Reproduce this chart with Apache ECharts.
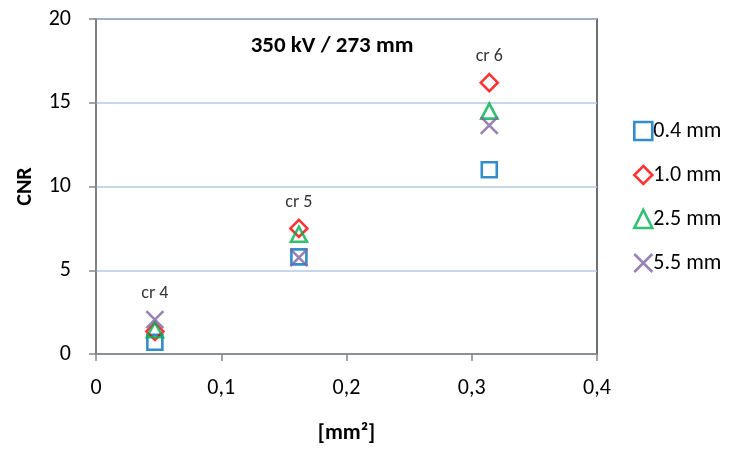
<!DOCTYPE html>
<html>
<head>
<meta charset="utf-8">
<script src="https://cdn.jsdelivr.net/npm/echarts@6/dist/echarts.min.js"></script>
<style>
html,body{margin:0;padding:0;background:#fff;}
#chart{width:740px;height:450px;}
</style>
</head>
<body>
<div id="chart"></div>
<script>
// ---- data ----
var areas = [0.047, 0.162, 0.314];          // x values [mm²]
var crLabels = ['cr 4', 'cr 5', 'cr 6'];
var seriesNames = ['0.4 mm', '1.0 mm', '2.5 mm', '5.5 mm'];
var cnr04 = [0.7, 5.8, 11.0];
var cnr10 = [1.35, 7.5, 16.2];
var cnr25 = [1.45, 7.15, 14.5];
var cnr55 = [2.05, 5.75, 13.65];
var yTicks = [0, 5, 10, 15, 20];
var xTicks = [0, 0.1, 0.2, 0.3, 0.4];

var FONT = 'Carlito, Lato, "Open Sans", sans-serif';
var colors = ['#0070C0', '#FF0000', '#00B050', '#8064A2'];
var symbols = ['rect', 'diamond', 'triangle', 'path://M0,0L10,10M10,0L0,10'];
var sizes = [[15, 15], [17, 17], [16, 15], [17, 17]];
var values = [cnr04, cnr10, cnr25, cnr55];

function pairs(v) { return areas.map(function (x, i) { return [x, v[i]]; }); }

var series = seriesNames.map(function (name, k) {
  return {
    name: name,
    type: 'scatter',
    symbol: symbols[k],
    symbolSize: sizes[k],
    data: pairs(values[k]),
    itemStyle: { color: 'rgba(255,255,255,0)', borderColor: colors[k], borderWidth: 2.6 },
    emphasis: { disabled: true },
    z: 3 + k
  };
});

// label series: placed at the highest marker for each category
var tops = areas.map(function (x, i) {
  return [x, Math.max(cnr04[i], cnr10[i], cnr25[i], cnr55[i])];
});
series.push({
  name: 'labels',
  type: 'scatter',
  symbolSize: 0,
  data: tops,
  silent: true,
  label: {
    show: true,
    position: 'top',
    distance: 17,
    formatter: function (p) { return crLabels[p.dataIndex]; },
    color: '#000',
    fontFamily: FONT,
    fontSize: 18
  },
  z: 10
});

var legendIcons = [
  'path://M1,1L19,1L19,19L1,19Z',
  'path://M10,0L20,10L10,20L0,10Z',
  'path://M10,1L19,19L1,19Z',
  'path://M0,0L20,20M20,0L0,20'
];

var chart = echarts.init(document.getElementById('chart'), null, { renderer: 'canvas' });
chart.setOption({
  animation: false,
  backgroundColor: '#ffffff',
  title: {
    text: '350 kV / 273 mm',
    left: 327,
    top: 30,
    textAlign: 'center',
    textStyle: { fontFamily: FONT, fontWeight: 'bold', fontSize: 23, color: '#000' }
  },
  grid: {
    left: 96, right: 143, top: 19, bottom: 96,
    show: true, borderColor: '#3a3f48', borderWidth: 1.5, backgroundColor: 'transparent'
  },
  legend: {
    orient: 'vertical',
    left: 628,
    top: 115,
    itemGap: 22,
    itemWidth: 18,
    itemHeight: 18,
    data: seriesNames.map(function (n, k) {
      return {
        name: n,
        icon: legendIcons[k],
        itemStyle: { color: 'rgba(255,255,255,0)', borderColor: colors[k], borderWidth: 2.6 }
      };
    }),
    textStyle: { fontFamily: FONT, fontSize: 22, lineHeight: 22, color: '#000', padding: [0, 0, 0, -4] }
  },
  xAxis: {
    type: 'value',
    min: xTicks[0], max: xTicks[xTicks.length - 1], interval: 0.1,
    name: '[mm²]',
    nameLocation: 'middle',
    nameGap: 68,
    nameTextStyle: { fontFamily: FONT, fontWeight: 'bold', fontSize: 22, color: '#000' },
    axisLine: { show: true, lineStyle: { color: '#868686', width: 1.5 } },
    axisTick: { show: true, inside: false, length: 7, lineStyle: { color: '#868686', width: 1.5 } },
    axisLabel: {
      fontFamily: FONT, fontSize: 22, color: '#000', margin: 23,
      formatter: function (v) { return String(v).replace('.', ','); }
    },
    splitLine: { show: false }
  },
  yAxis: {
    type: 'value',
    min: yTicks[0], max: yTicks[yTicks.length - 1], interval: 5,
    name: 'CNR',
    nameLocation: 'middle',
    nameGap: 60,
    nameRotate: 90,
    nameTextStyle: { fontFamily: FONT, fontWeight: 'bold', fontSize: 22, color: '#000' },
    axisLine: { show: true, lineStyle: { color: '#868686', width: 1.5 } },
    axisTick: { show: true, inside: false, length: 7, lineStyle: { color: '#868686', width: 1.5 } },
    axisLabel: { fontFamily: FONT, fontSize: 22, color: '#000', margin: 25 },
    splitLine: { show: true, lineStyle: { color: '#B4C8E4', width: 1.5 } }
  },
  series: series
});
</script>
</body>
</html>
